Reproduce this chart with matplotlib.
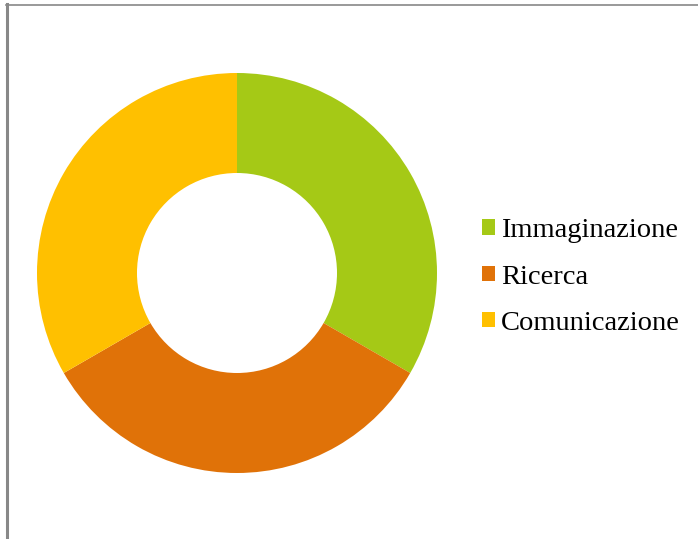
import matplotlib.pyplot as plt
from matplotlib.lines import Line2D
from matplotlib.patches import Patch

labels = ['Immaginazione', 'Ricerca', 'Comunicazione']
values = [1, 1, 1]
colors = ['#A5C916', '#E07208', '#FFC000']

W, H = 698, 539
fig = plt.figure(figsize=(W / 100, H / 100), dpi=100)

# donut, centre at (237, 273) px from top-left, radius 200 px
cx, cy, r = 237, 273, 200
ax = fig.add_axes([(cx - r) / W, (H - cy - r) / H, 2 * r / W, 2 * r / H])
ax.pie(values, colors=colors, startangle=90, counterclock=False,
       radius=1, wedgeprops=dict(width=0.5, edgecolor='none'))
ax.set_xlim(-1, 1)
ax.set_ylim(-1, 1)
ax.set_aspect('equal')
ax.axis('off')

# frame lines (left and top)
fig.add_artist(Line2D([7.5 / W, 7.5 / W], [1 - 4 / H, 1 - 537 / H],
                      color='#888888', lw=2.2, transform=fig.transFigure))
fig.add_artist(Line2D([6 / W, 1], [1 - 4.5 / H, 1 - 4.5 / H],
                      color='#888888', lw=1.2, transform=fig.transFigure))

handles = [Patch(facecolor=c, edgecolor='none') for c in colors]
fig.legend(handles, labels, loc='center left',
           bbox_to_anchor=(482 / W, 1 - 277 / H), frameon=False,
           prop={'family': 'Liberation Serif', 'size': 20.5},
           handlelength=0.46, handleheight=0.46, handletextpad=0.2,
           labelspacing=0.75, borderaxespad=0, borderpad=0)

fig.savefig('out.png', dpi=100)
